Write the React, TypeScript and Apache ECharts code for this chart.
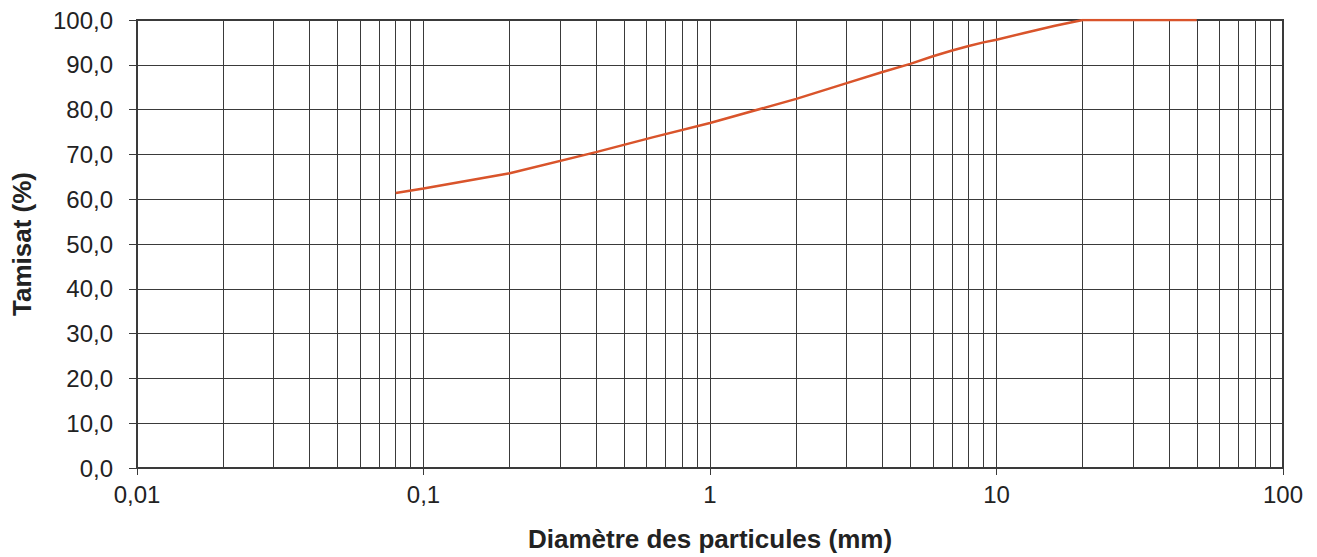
import React, { useEffect, useRef } from "react";
import * as echarts from "echarts";

const sizes = [0.08, 0.1, 0.2, 0.4, 0.63, 1, 2, 3, 4, 5, 6, 7, 8, 9, 10, 12.5, 16, 20, 50];
const passing = [61.4, 62.4, 65.8, 70.5, 73.8, 77.0, 82.4, 85.9, 88.4, 90.2, 91.9, 93.2, 94.2, 95.0, 95.6, 97.1, 98.7, 100, 100];
const xTickLabels = ["0,01", "0,1", "1", "10", "100"];
const minorGridValues = [
  0.02, 0.03, 0.04, 0.05, 0.06, 0.07, 0.08, 0.09,
  0.2, 0.3, 0.4, 0.5, 0.6, 0.7, 0.8, 0.9,
  2, 3, 4, 5, 6, 7, 8, 9,
  20, 30, 40, 50, 60, 70, 80, 90,
];

export default function App() {
  const ref = useRef<HTMLDivElement>(null);
  useEffect(() => {
    if (!ref.current) return;
    const chart = echarts.init(ref.current, null, { renderer: "svg" });
    const font = "'Liberation Sans', Arial, Helvetica, sans-serif";
    chart.setOption({
      animation: false,
      backgroundColor: "#ffffff",
      grid: {
        left: 137,
        right: 34,
        top: 20,
        bottom: 89,
        show: true,
        borderColor: "#3a3a3a",
        borderWidth: 2,
        backgroundColor: "transparent",
      },
      xAxis: {
        type: "log",
        logBase: 10,
        min: 0.01,
        max: 100,
        name: "Diamètre des particules (mm)",
        nameLocation: "middle",
        nameGap: 58,
        nameTextStyle: { fontFamily: font, fontSize: 26, fontWeight: "bold", color: "#222" },
        axisLine: { show: true, lineStyle: { color: "#3a3a3a", width: 2 } },
        axisTick: { show: true, length: 7, lineStyle: { color: "#3a3a3a", width: 1 } },
        axisLabel: {
          fontFamily: font,
          fontSize: 24,
          color: "#222",
          margin: 14,
          formatter: (v: number) => xTickLabels[Math.round(Math.log10(v)) + 2] ?? "",
        },
        splitLine: { show: true, lineStyle: { color: "#3a3a3a", width: 1 } },
      },
      yAxis: {
        type: "value",
        min: 0,
        max: 100,
        interval: 10,
        name: "Tamisat (%)",
        nameLocation: "middle",
        nameGap: 102,
        nameTextStyle: { fontFamily: font, fontSize: 26, fontWeight: "bold", color: "#222" },
        axisLine: { show: true, lineStyle: { color: "#3a3a3a", width: 2 } },
        axisTick: { show: true, length: 8, lineStyle: { color: "#3a3a3a", width: 1 } },
        axisLabel: {
          fontFamily: font,
          fontSize: 24,
          color: "#222",
          margin: 24,
          formatter: (v: number) => v.toFixed(1).replace(".", ","),
        },
        splitLine: { show: true, lineStyle: { color: "#3a3a3a", width: 1 } },
      },
      series: [
        {
          type: "line",
          data: sizes.map((s, i) => [s, passing[i]]),
          showSymbol: false,
          smooth: false,
          lineStyle: { color: "#d9542b", width: 2.5 },
          z: 5,
          markLine: {
            silent: true,
            symbol: "none",
            label: { show: false },
            animation: false,
            lineStyle: { color: "#3a3a3a", width: 1, type: "solid" },
            data: minorGridValues.map((v) => ({ xAxis: v })),
            z: 1,
          },
        },
      ],
    });
    return () => chart.dispose();
  }, []);
  return (
    <div
      ref={ref}
      style={{ position: "fixed", left: 0, top: 0, width: 1317, height: 557, background: "#fff" }}
    />
  );
}
